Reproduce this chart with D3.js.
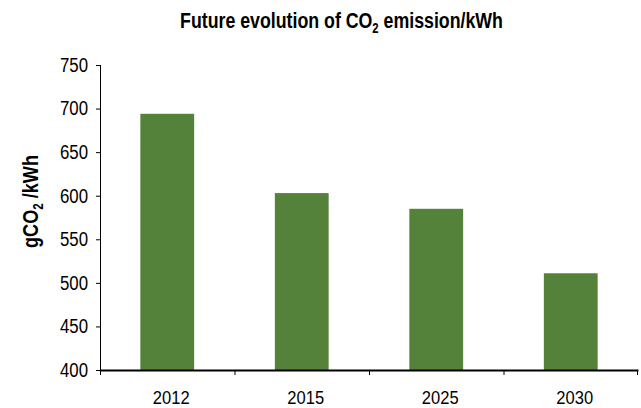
<!DOCTYPE html>
<meta charset="utf-8">
<style>
body { margin: 0; background: #fff; }
text {
	font-family: "Liberation Sans", Arial, sans-serif;
	fill: #000;
}
.axis text { font-size: 20px; }
.axis--x text { font-size: 19px; }
.axis--x path { stroke-width: 2; }
.bar { fill: #54823b; }
</style>
<body>
<svg width="641" height="408"></svg>
<script src="https://d3js.org/d3.v7.min.js"></script>
<script>

// data
var years = ["2012", "2015", "2025", "2030"];
var emissions = [694, 603, 585, 511];
var yTicks = [400, 450, 500, 550, 600, 650, 700, 750];

var svg = d3.select("svg"),
    margin = {top: 65, right: 3, bottom: 38, left: 100},
    width = +svg.attr("width") - margin.left - margin.right,
    height = +svg.attr("height") - margin.top - margin.bottom,
    g = svg.append("g").attr("transform", "translate(" + margin.left + "," + margin.top + ")");

var data = years.map(function(d, i) { return {year: d, value: emissions[i]}; });

var x = d3.scaleBand().domain(years).range([0, width]).paddingInner(0.6).paddingOuter(0.3),
    y = d3.scaleLinear().domain([400, 750]).range([height, 0]);

// squeeze text to look like the condensed face of the original
function narrow(sel, k) {
  sel.each(function() {
    var w = this.getComputedTextLength();
    d3.select(this).attr("textLength", w * k).attr("lengthAdjust", "spacingAndGlyphs");
  });
}

// bars
g.selectAll(".bar")
    .data(data)
  .enter().append("rect")
    .attr("class", "bar")
    .attr("x", function(d) { return x(d.year); })
    .attr("width", x.bandwidth())
    .attr("y", function(d) { return y(d.value); })
    .attr("height", function(d) { return height - y(d.value); });

// y axis
var yAxis = g.append("g")
    .attr("class", "axis axis--y")
    .call(d3.axisLeft(y).tickValues(yTicks).tickSize(4).tickPadding(8).tickSizeOuter(0));
yAxis.select(".domain").attr("d", "M0.5," + y(750) + "V" + height);
narrow(yAxis.selectAll(".tick text"), 0.84);

// x axis: labels centred, ticks between categories
var xAxis = g.append("g")
    .attr("class", "axis axis--x")
    .attr("transform", "translate(0," + height + ")")
    .call(d3.axisBottom(x).tickSize(0).tickPadding(21).tickSizeOuter(0));
xAxis.selectAll(".tick text").attr("dx", 4);
narrow(xAxis.selectAll(".tick text"), 0.87);

xAxis.selectAll(".sep")
    .data(d3.range(years.length + 1))
  .enter().append("line")
    .attr("class", "sep")
    .attr("x1", function(i) { return Math.min(i * x.step(), width - 1) + 0.5; })
    .attr("x2", function(i) { return Math.min(i * x.step(), width - 1) + 0.5; })
    .attr("y1", 0)
    .attr("y2", 5)
    .attr("stroke", "#000");

// title, scaled horizontally to the width of the original
var tg = svg.append("g");
var title = tg.append("text")
    .attr("text-anchor", "middle")
    .style("font-size", "22px")
    .style("font-weight", "bold");
title.append("tspan").text("Future evolution of CO");
title.append("tspan").attr("dy", 5).style("font-size", "14px").text("2");
title.append("tspan").attr("dy", -5).text(" emission/kWh");
var tw = title.node().getBBox().width;
tg.attr("transform", "translate(341.5,28) scale(" + (323 / tw) + ",1)");

// y axis label
var lg = svg.append("g");
var ylab = lg.append("text")
    .attr("text-anchor", "middle")
    .style("font-size", "22px")
    .style("font-weight", "bold");
ylab.append("tspan").text("gCO");
ylab.append("tspan").attr("dy", 5).style("font-size", "14px").text("2");
ylab.append("tspan").attr("dy", -5).text(" /kWh");
var lw = ylab.node().getBBox().width;
lg.attr("transform", "translate(38,201.5) rotate(-90) scale(" + (93 / lw) + ",1)");

</script>
</body>
